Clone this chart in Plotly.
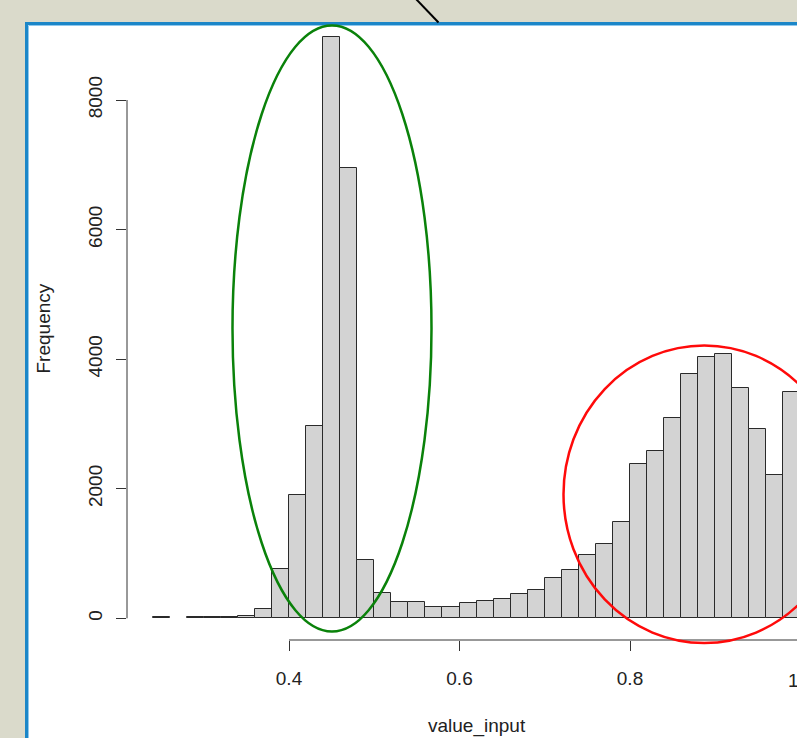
import plotly.graph_objects as go

# ---------------- data ----------------
bin_width = 0.02
bin_left = [0.24, 0.26, 0.28, 0.30, 0.32, 0.34, 0.36, 0.38, 0.40, 0.42,
            0.44, 0.46, 0.48, 0.50, 0.52, 0.54, 0.56, 0.58, 0.60, 0.62,
            0.64, 0.66, 0.68, 0.70, 0.72, 0.74, 0.76, 0.78, 0.80, 0.82,
            0.84, 0.86, 0.88, 0.90, 0.92, 0.94, 0.96, 0.98]
counts = [18, None, 14, 15, 16, 40, 150, 760, 1905, 2965,
          8965, 6950, 905, 390, 245, 245, 180, 177, 231, 267,
          298, 375, 442, 628, 741, 978, 1152, 1492, 2383, 2589,
          3089, 3773, 4035, 4075, 3550, 2919, 2208, 3500]
x_ticks = [0.4, 0.6, 0.8]
x_tick_labels = ["0.4", "0.6", "0.8"]
y_ticks = [0, 2000, 4000, 6000, 8000]
y_tick_labels = ["0", "2000", "4000", "6000", "8000"]
x_title = "value_input"
y_title = "Frequency"

# ---------------- geometry ----------------
W, H = 797, 738
PL, PB = 127, 640            # plot area left / bottom in px (top = 0, right = W)
PW, PH = W - PL, PB
X_REF_PX, X_REF_VAL, PX_PER_X = 289.0, 0.4, 852.5
Y0_PX, PX_PER_Y = 618.3, (618.3 - 100.0) / 8000.0

x_range = [X_REF_VAL + (PL - X_REF_PX) / PX_PER_X, X_REF_VAL + (W - X_REF_PX) / PX_PER_X]
y_range = [-(PB - Y0_PX) / PX_PER_Y, Y0_PX / PX_PER_Y]


def px(xp):
    return (xp - PL) / PW


def py(yp):
    return (PB - yp) / PH


FONT = "Liberation Sans, Arial, sans-serif"
FS = 19
TXT = "#222222"

centers = [b + bin_width / 2 for b in bin_left]

fig = go.Figure(go.Bar(
    x=centers, y=counts, width=bin_width,
    marker=dict(color="#d3d3d3", line=dict(color="#2a2a2a", width=1)),
    hoverinfo="skip",
))

shapes = [
    # white slide panel with blue border
    dict(type="rect", xref="paper", yref="paper", x0=px(26.5), x1=px(900), y0=py(900), y1=py(23.5),
         line=dict(color="#1b86c8", width=3), fillcolor="white", layer="below"),
    dict(type="rect", xref="paper", yref="paper", x0=px(28.5), x1=px(900), y0=py(900), y1=py(25.5),
         line=dict(color="#8fc8ee", width=1), fillcolor="rgba(0,0,0,0)", layer="below"),
    # black pointer line at top
    dict(type="line", xref="paper", yref="paper", x0=px(416), y0=py(-1), x1=px(438.5), y1=py(22.5),
         line=dict(color="black", width=2)),
    # R-style detached axes
    dict(type="line", xref="paper", yref="y", x0=0, x1=0, y0=y_ticks[0], y1=y_ticks[-1],
         line=dict(color="#333333", width=1)),
    dict(type="line", xref="x", yref="paper", x0=x_ticks[0], x1=1.05, y0=0, y1=0,
         line=dict(color="#333333", width=1)),
    # highlight ellipses
    dict(type="circle", xref="paper", yref="paper", x0=px(232.5), x1=px(431.5), y0=py(631.5), y1=py(25.5),
         line=dict(color="#0a820a", width=2.5)),
    dict(type="circle", xref="paper", yref="paper", x0=px(563.5), x1=px(845), y0=py(643), y1=py(345.5),
         line=dict(color="#ff0a0a", width=2.5)),
]

annotations = [
    dict(text=y_title, xref="paper", yref="paper", x=px(43), y=py(328.5), textangle=-90,
         showarrow=False, xanchor="center", yanchor="middle", font=dict(family=FONT, size=FS, color=TXT)),
    dict(text=x_title, xref="paper", yref="paper", x=px(477), y=py(726),
         showarrow=False, xanchor="center", yanchor="middle", font=dict(family=FONT, size=FS, color=TXT)),
    dict(text="1.0", xref="paper", yref="paper", x=px(800.5), y=py(680),
         showarrow=False, xanchor="center", yanchor="middle", font=dict(family=FONT, size=FS, color=TXT)),
]

fig.update_layout(
    width=W, height=H,
    margin=dict(l=PL, r=0, t=0, b=H - PB, pad=0),
    paper_bgcolor="#dadacb",
    plot_bgcolor="rgba(0,0,0,0)",
    showlegend=False,
    bargap=0,
    shapes=shapes,
    annotations=annotations,
    font=dict(family=FONT, size=FS, color=TXT),
    xaxis=dict(range=x_range, showgrid=False, zeroline=False, showline=False,
               tickmode="array", tickvals=x_ticks, ticktext=x_tick_labels,
               ticks="outside", ticklen=10, tickwidth=1, tickcolor="#333333",
               tickfont=dict(family=FONT, size=FS, color=TXT), ticklabelstandoff=11),
    yaxis=dict(range=y_range, showgrid=False, zeroline=False, showline=False,
               tickmode="array", tickvals=y_ticks, ticktext=y_tick_labels,
               ticks="outside", ticklen=10, tickwidth=1, tickcolor="#333333", tickangle=-90,
               tickfont=dict(family=FONT, size=FS, color=TXT), ticklabelstandoff=6),
)

fig.write_html(
    "out.html",
    config={"displayModeBar": False},
    post_script="document.body.style.margin='0';document.body.style.overflow='hidden';",
)
